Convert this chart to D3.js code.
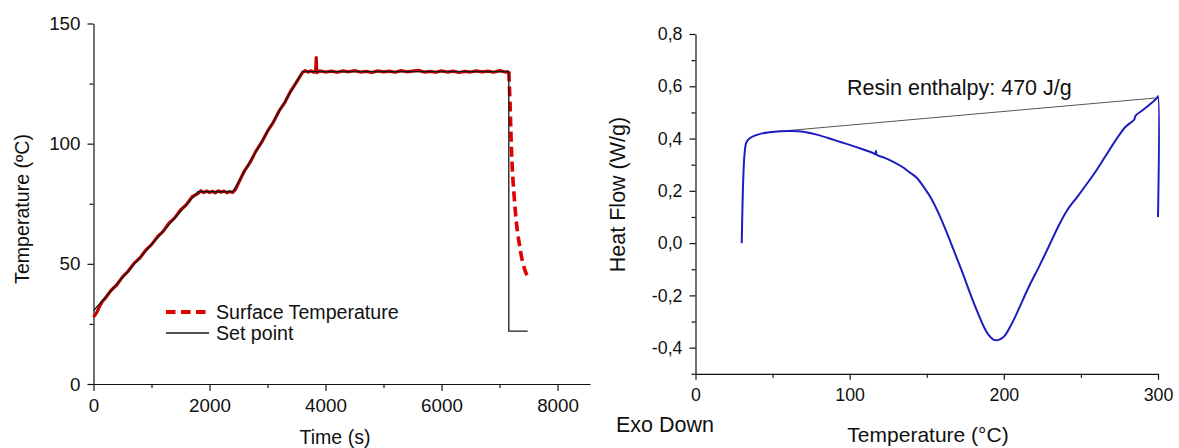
<!DOCTYPE html>
<html><head><meta charset="utf-8">
<script src="https://cdn.jsdelivr.net/npm/d3@7"></script>
<style>
html,body{margin:0;padding:0;background:#fff;}
svg{display:block;}
text{font-family:"Liberation Sans",Arial,sans-serif;fill:#111;}
.axis path,.axis line{stroke:#111;stroke-width:1.2;}
</style></head>
<body><svg id="c" width="1179" height="448"></svg>
<script>
// ---------- Left chart data ----------
const setTime = [0, 1800, 2400, 3600, 7160, 7160, 7485];
const setTemp = [30.5, 80, 80, 130, 130, 22, 22];
const surfTime = [0,50,100,150,200,300,400,500,600,700,800,900,1000,1100,1200,1300,1400,1500,1600,1700,1800,1850,1900,1950,2000,2050,2100,2150,2200,2250,2300,2350,2400,2450,2500,2600,2700,2800,2900,3000,3100,3200,3300,3400,3500,3600,3650,3700,3750,3800,3830,3840,3850,3900,4000,4100,4200,4300,4400,4500,4600,4700,4800,4900,5000,5100,5200,5300,5400,5500,5600,5700,5800,5900,6000,6100,6200,6300,6400,6500,6600,6700,6800,6900,7000,7100,7160];
const surfTemp = [27.8,29.5,32.0,34.2,35.6,38.9,41.2,44.6,47.0,50.3,52.4,55.7,58.0,61.2,63.5,66.9,69.1,72.4,74.6,77.9,79.2,80.4,79.6,80.3,79.7,80.2,79.5,80.4,79.8,80.3,79.6,80.1,79.7,81.0,83.6,88.6,92.2,96.9,100.6,105.2,108.9,113.6,117.2,121.9,125.6,129.5,130.4,129.8,130.3,129.7,130.2,135.8,129.6,130.3,129.8,130.2,129.7,130.3,129.9,130.4,129.8,130.1,129.6,130.3,129.9,130.2,129.7,130.4,129.9,130.2,130.5,129.8,130.1,129.7,130.3,129.8,130.2,129.6,130.1,129.8,130.3,129.9,130.2,129.7,130.4,129.8,130.0];
const coolTime = [7160, 7180, 7207, 7259, 7362, 7485];
const coolTemp = [130, 118, 97, 76, 55.3, 44.5];
const leftXTicks = [0, 2000, 4000, 6000, 8000];
const leftXMinor = [1000, 3000, 5000, 7000];
const leftYTicks = [0, 50, 100, 150];
const leftYMinor = [25, 75, 125];
const legendLabels = ["Surface Temperature", "Set point"];

// ---------- Right chart data ----------
const dscTemp = [30,30.4,31,31.8,33,35,38,42,48,55,62,70,78,86,94,100,108,115,116.5,117,117.6,122,128,134,139,143.5,148,153,158,163,168,173,178,183,187,190,193,195,197.5,200.5,205,210,216,223,229,235,241,247.8,254,260,266,272.6,279,284.5,285.5,290,295,299.5,300,300];
const dscFlow = [0.0,0.12,0.25,0.34,0.385,0.4,0.41,0.418,0.424,0.428,0.429,0.426,0.416,0.402,0.387,0.376,0.36,0.345,0.34,0.352,0.338,0.328,0.312,0.292,0.27,0.25,0.215,0.17,0.11,0.04,-0.035,-0.11,-0.19,-0.265,-0.32,-0.35,-0.368,-0.372,-0.368,-0.355,-0.31,-0.248,-0.17,-0.088,-0.015,0.06,0.125,0.178,0.228,0.278,0.333,0.394,0.445,0.472,0.488,0.508,0.532,0.557,0.562,0.1];
const baseTemp = [61, 300];
const baseFlow = [0.431, 0.556];
const rightXTicks = [0, 100, 200, 300];
const rightXMinor = [50, 150, 250];
const rightYTicks = [-0.4, -0.2, 0, 0.2, 0.4, 0.6, 0.8];
const rightYMinor = [-0.5, -0.3, -0.1, 0.1, 0.3, 0.5, 0.7];
const annotation = "Resin enthalpy: 470 J/g";

const svg = d3.select("#c");
svg.append("rect").attr("width",1179).attr("height",448).attr("fill","#fff");

// ================= LEFT =================
const xL = d3.scaleLinear().domain([0, 8560]).range([93.5, 590]);
const yL = d3.scaleLinear().domain([0, 150]).range([384, 23.5]);
const gL = svg.append("g");

gL.append("g").attr("class","axis").attr("transform","translate(0,384)")
  .call(d3.axisBottom(xL).tickValues(leftXMinor).tickSize(4).tickFormat(""))
  .call(g=>g.select(".domain").remove());
gL.append("g").attr("class","axis").attr("transform","translate(0,384)")
  .call(d3.axisBottom(xL).tickValues(leftXTicks).tickSize(7).tickSizeOuter(0).tickPadding(8).tickFormat(d3.format("d")))
  .call(g=>g.selectAll("text").attr("font-size",18.8).attr("dy","0.71em"));
gL.append("g").attr("class","axis").attr("transform","translate(93.5,0)")
  .call(d3.axisLeft(yL).tickValues(leftYMinor).tickSize(4).tickFormat(""))
  .call(g=>g.select(".domain").remove());
gL.append("g").attr("class","axis").attr("transform","translate(93.5,0)")
  .call(d3.axisLeft(yL).tickValues(leftYTicks).tickSize(6).tickSizeOuter(0).tickPadding(7).tickFormat(d3.format("d")))
  .call(g=>g.selectAll("text").attr("font-size",18.8));

const surfData = surfTime.map((t,i)=>[t, surfTemp[i]]);
const coolData = coolTime.map((t,i)=>[t, coolTemp[i]]);
const setData = setTime.map((t,i)=>[t, setTemp[i]]);
const lineL = d3.line().x(d=>xL(d[0])).y(d=>yL(d[1]));
const lineCool = d3.line().x(d=>xL(d[0])).y(d=>yL(d[1])).curve(d3.curveMonotoneX);

gL.append("path").attr("d", lineL(surfData)).attr("fill","none")
  .attr("stroke","#c40000").attr("stroke-width",3.2).attr("stroke-linejoin","round");
gL.append("path").attr("d", lineCool(coolData)).attr("fill","none")
  .attr("stroke","#e00000").attr("stroke-width",3.6).attr("stroke-dasharray","10,5");
gL.append("path").attr("d", lineL(setData)).attr("fill","none")
  .attr("stroke","#1a1a1a").attr("stroke-width",1.3);

// legend
gL.append("line").attr("x1",166).attr("x2",206).attr("y1",312).attr("y2",312)
  .attr("stroke","#e00000").attr("stroke-width",4).attr("stroke-dasharray","9.5,5.5");
gL.append("line").attr("x1",166).attr("x2",209).attr("y1",333).attr("y2",333)
  .attr("stroke","#1a1a1a").attr("stroke-width",1.3);
gL.append("text").attr("x",216).attr("y",318.5).attr("font-size",19.6).text(legendLabels[0]);
gL.append("text").attr("x",216).attr("y",339.5).attr("font-size",19.6).text(legendLabels[1]);

gL.append("text").attr("x",335).attr("y",443.5).attr("text-anchor","middle").attr("font-size",19.6).text("Time (s)");
gL.append("text").attr("transform","translate(29,209) rotate(-90)").attr("text-anchor","middle").attr("font-size",19.6).text("Temperature (ºC)");

// ================= RIGHT =================
const xR = d3.scaleLinear().domain([0, 300]).range([695.5, 1158]);
const yR = d3.scaleLinear().domain([-0.5, 0.8]).range([373.8, 34]);
const gR = svg.append("g");
const fmt = d=>d3.format(".1f")(d).replace(".", ",").replace("−","-");

gR.append("g").attr("class","axis").attr("transform","translate(0,373.8)")
  .call(d3.axisBottom(xR).tickValues(rightXMinor).tickSize(4).tickFormat(""))
  .call(g=>g.select(".domain").remove());
gR.append("g").attr("class","axis").attr("transform","translate(0,373.8)")
  .call(d3.axisBottom(xR).tickValues(rightXTicks).tickSize(6).tickSizeOuter(0).tickPadding(9).tickFormat(d3.format("d")))
  .call(g=>g.selectAll("text").attr("font-size",17.8).attr("dy","0.71em"));
gR.append("g").attr("class","axis").attr("transform","translate(695.5,0)")
  .call(d3.axisLeft(yR).tickValues(rightYMinor).tickSize(4).tickFormat(""))
  .call(g=>g.select(".domain").remove());
gR.append("g").attr("class","axis").attr("transform","translate(695.5,0)")
  .call(d3.axisLeft(yR).tickValues(rightYTicks).tickSize(6).tickSizeOuter(0).tickPadding(7).tickFormat(fmt))
  .call(g=>g.selectAll("text").attr("font-size",17.8));

const lineR = d3.line().x(d=>xR(d[0])).y(d=>yR(d[1]));
const lineDsc = d3.line().x(d=>xR(d[0])).y(d=>yR(d[1])).curve(d3.curveCatmullRom.alpha(0.5));
const baseData = baseTemp.map((t,i)=>[t, baseFlow[i]]);
const dscData = dscTemp.map((t,i)=>[t, dscFlow[i]]);
gR.append("path").attr("d", lineR(baseData)).attr("fill","none")
  .attr("stroke","#555").attr("stroke-width",1);
gR.append("path").attr("d", lineDsc(dscData)).attr("fill","none")
  .attr("stroke","#1c1cc0").attr("stroke-width",2).attr("stroke-linejoin","round");

gR.append("text").attr("x",847).attr("y",95).attr("font-size",21.5).text(annotation);
gR.append("text").attr("x",616).attr("y",432).attr("font-size",21.5).text("Exo Down");
gR.append("text").attr("x",928).attr("y",442).attr("text-anchor","middle").attr("font-size",21).text("Temperature (°C)");
gR.append("text").attr("transform","translate(625,194.5) rotate(-90)").attr("text-anchor","middle").attr("font-size",21.5).text("Heat Flow (W/g)");
</script></body></html>
